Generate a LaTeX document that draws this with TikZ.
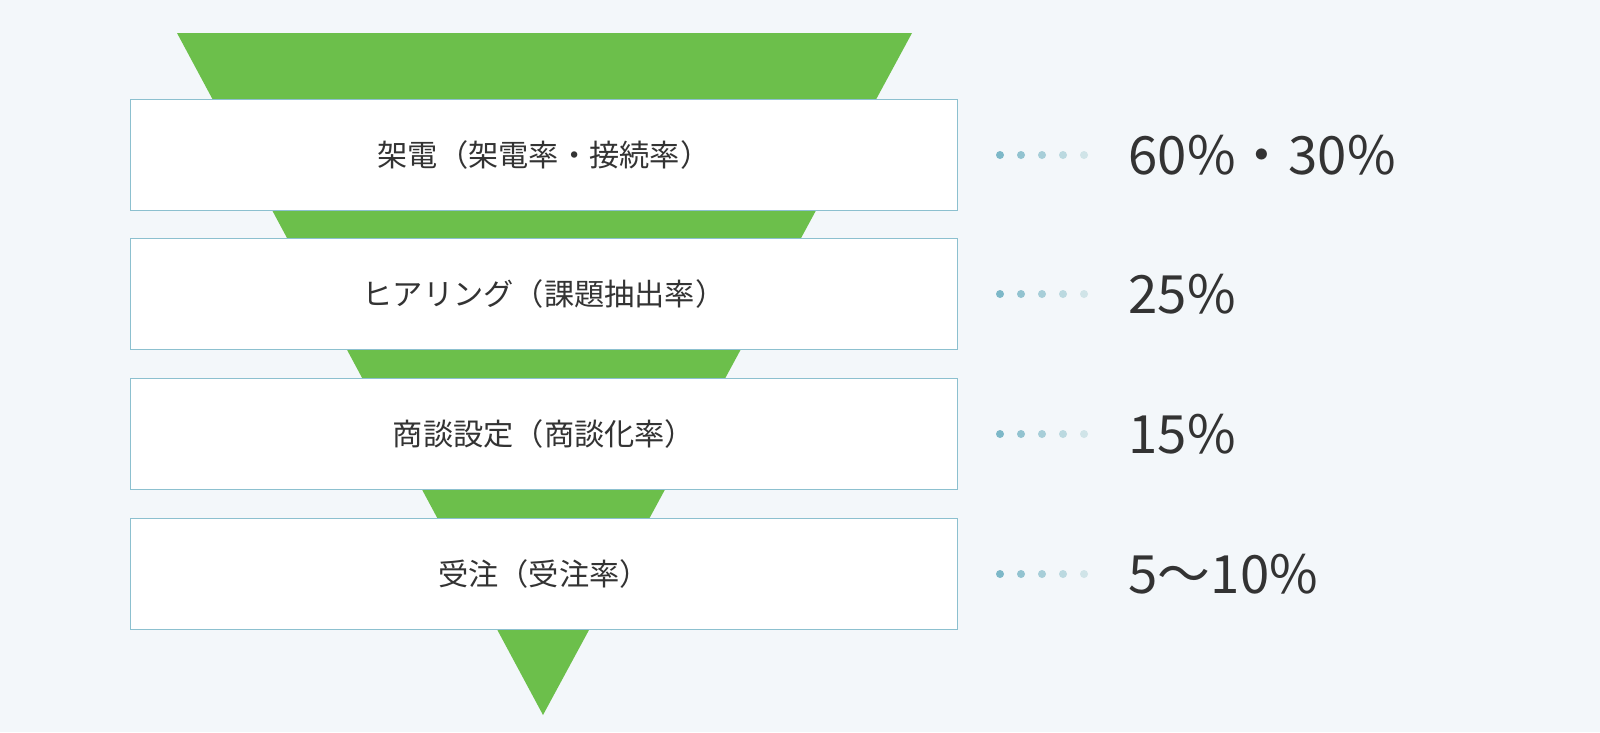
\documentclass[tikz,border=0pt]{standalone}
\usepackage{fontspec}
\setmainfont{Noto Sans CJK JP}
\definecolor{bgc}{HTML}{F3F7FA}
\definecolor{funnel}{HTML}{6CBF4B}
\definecolor{edge}{HTML}{8CC0CF}
\definecolor{ink}{HTML}{333333}
\definecolor{dotA}{HTML}{7DB8C8}
\definecolor{dotB}{HTML}{D0E4E8}
\tikzset{
  stage/.style={draw=edge, line width=0.4pt, fill=white, minimum width=8.26cm,
    minimum height=1.11cm, inner sep=0pt, text=ink, font=\fontsize{8.6}{10}\selectfont},
  rate/.style={anchor=west, text=ink, inner sep=0pt, font=\fontsize{15}{18}\selectfont}
}
\begin{document}
\begin{tikzpicture}[x=0.01cm, y=0.01cm]

    % Hintergrund
    \fill[bgc] (0,0) rectangle (1600,732);

    % Trichter
    \fill[funnel] (177,699) -- (912,699) -- (543,17) -- cycle;

    % Stufen
    \node[stage] (s1) at (544,577) {架電（架電率・接続率）};
    \node[stage] (s2) at (544,438) {ヒアリング（課題抽出率）};
    \node[stage] (s3) at (544,298) {商談設定（商談化率）};
    \node[stage] (s4) at (544,158) {受注（受注率）};

    % Punkte und Werte
    \foreach \y/\t [count=\i] in {577/60\%・30\%, 438/25\%, 298/15\%, 158/5〜10\%} {
      \foreach \k in {0,...,4} {
        \pgfmathsetmacro{\mix}{100-\k*25}
        \fill[dotA!\mix!dotB] (1000+\k*21,\y) circle (4);
      }
      \node[rate] (r\i) at (1128,\y) {\t};
    }

    \pgfresetboundingbox
    \useasboundingbox (0,0) rectangle (1600,732);

  \end{tikzpicture}
\end{document}
